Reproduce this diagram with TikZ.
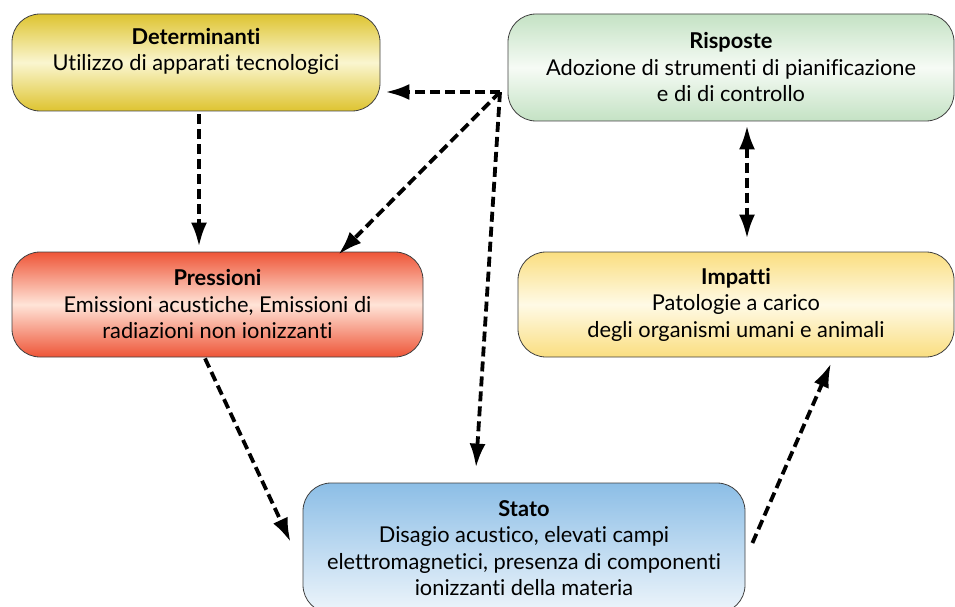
\documentclass[tikz,border=0pt]{standalone}
\usepackage{fontspec}
\setmainfont[Ligatures={NoCommon}]{Lato}
\usetikzlibrary{arrows.meta, positioning}
\definecolor{detdark}{RGB}{222,196,48}
\definecolor{detlight}{RGB}{250,246,208}
\definecolor{rispdark}{RGB}{196,226,196}
\definecolor{risplight}{RGB}{246,251,245}
\definecolor{pressdark}{RGB}{238,85,55}
\definecolor{presslight}{RGB}{255,228,216}
\definecolor{impdark}{RGB}{250,222,128}
\definecolor{implight}{RGB}{255,250,230}
\definecolor{statodark}{RGB}{140,190,230}
\definecolor{statolight}{RGB}{238,245,251}
\tikzset{
	box/.style={draw=black!75, line width=0.8pt, rounded corners=28pt, align=center, inner sep=0pt, font=\fontsize{21.8}{26.5}\selectfont},
	flow/.style={line width=3.8pt, dash pattern=on 10pt off 5pt, -{Latex[length=24pt, width=16pt]}},
	flowboth/.style={flow, {Latex[length=24pt, width=16pt]}-{Latex[length=24pt, width=16pt]}}
}

\begin{document}
\begin{tikzpicture}[x=1pt, y=-1pt]
		\clip (0,0) rectangle (955,607);
		
		\node[box, minimum width=368pt, minimum height=97pt, top color=detdark, bottom color=detdark, middle color=detlight] at (196,62.5) (det) {\textbf{Determinanti}\\Utilizzo di apparati tecnologici\\\mbox{}};
		\node[box, minimum width=446pt, minimum height=107pt, top color=rispdark, bottom color=rispdark, middle color=risplight] at (731,67.5) (risp) {\textbf{Risposte}\\Adozione di strumenti di pianificazione\\e di di controllo};
		\node[box, minimum width=411pt, minimum height=105pt, top color=pressdark, bottom color=pressdark, middle color=presslight] at (217.5,304.5) (press) {\textbf{Pressioni}\\Emissioni acustiche, Emissioni di\\radiazioni non ionizzanti};
		\node[box, minimum width=436pt, minimum height=105pt, top color=impdark, bottom color=impdark, middle color=implight] at (736,304.5) (imp) {\textbf{Impatti}\\Patologie a carico\\degli organismi umani e animali};
		\node[box, minimum width=442pt, minimum height=130pt, top color=statodark, bottom color=statolight] at (524,548) (stato) {\textbf{Stato}\\Disagio acustico, elevati campi\\elettromagnetici, presenza di componenti\\ionizzanti della materia};
		
		\coordinate (hub) at (500,92);
		
		\draw[flow] (hub) -- ([xshift=5pt]det.east |- hub);
		\draw[flow] (hub) -- ([xshift=-85pt, yshift=-3pt]press.north east);
		\draw[flow] (hub) -- ([xshift=-48pt, yshift=15pt]stato.north);
		\draw[flow] ([xshift=3pt, yshift=-3pt]det.south) -- ([xshift=3pt, yshift=5pt]press.north -| det.south);
		\draw[flowboth] ([xshift=16pt, yshift=-4pt]risp.south) -- ([xshift=11pt, yshift=13pt]imp.north);
		\draw[flow] ([xshift=-12.5pt, yshift=-1pt]press.south) -- ([xshift=-12pt, yshift=6pt]stato.west);
		\draw[flow] ([xshift=7pt, yshift=5pt]stato.east) -- ([xshift=95pt, yshift=-6pt]imp.south);
	\end{tikzpicture}
\end{document}
